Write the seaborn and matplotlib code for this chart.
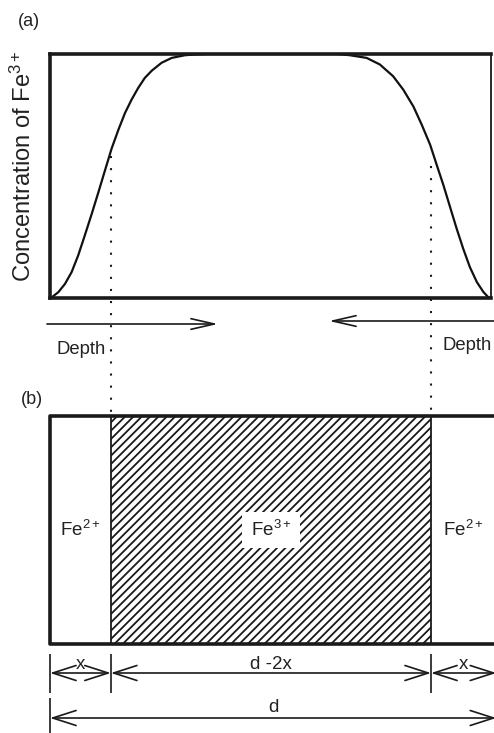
import numpy as np
import pandas as pd
import seaborn as sns
import matplotlib
matplotlib.use("Agg")
import matplotlib.pyplot as plt
from matplotlib.patches import Rectangle

sns.set_theme(style="white")
plt.rcParams["font.family"] = ["Liberation Sans", "DejaVu Sans"]
plt.rcParams["mathtext.fontset"] = "custom"
plt.rcParams["mathtext.rm"] = "Liberation Sans"
plt.rcParams["mathtext.it"] = "Liberation Sans:italic"
plt.rcParams["hatch.linewidth"] = 1.3

# Fe3+ concentration profile across the sample (depth as a fraction of d)
depth = [0.0, 0.004, 0.019, 0.034, 0.049, 0.064, 0.079, 0.095, 0.110, 0.125,
         0.140, 0.155, 0.170, 0.185, 0.200, 0.215, 0.231, 0.253, 0.276,
         0.306, 0.329, 0.360, 0.650,
         0.680, 0.718, 0.748, 0.778, 0.801, 0.824, 0.843, 0.862, 0.877,
         0.892, 0.907, 0.922, 0.937, 0.952, 0.968, 0.983, 0.994, 1.0]
conc = [0.0, 0.003, 0.024, 0.058, 0.106, 0.175, 0.257, 0.347, 0.435, 0.525,
        0.614, 0.689, 0.758, 0.813, 0.861, 0.902, 0.932, 0.964, 0.984,
        0.995, 0.998, 1.0, 1.0,
        0.995, 0.984, 0.957, 0.909, 0.854, 0.785, 0.710, 0.628, 0.545,
        0.463, 0.374, 0.285, 0.202, 0.127, 0.065, 0.024, 0.003, 0.0]

# layer boundaries in panel (b): Fe2+ | Fe3+ | Fe2+
x_shell = 0.138
edges = [0.0, x_shell, 0.864, 1.012]
layer_labels = ["Fe$^{2+}$", "Fe$^{3+}$", "Fe$^{2+}$"]
dim_labels = ["x", "d -2x", "x"]

W, H = 494, 733
fig = plt.figure(figsize=(W / 100, H / 100), dpi=100)

# page-wide axes: horizontal in depth units, vertical in pixel rows
x_of = lambda p: (p - 50) / 441.0
ov = fig.add_axes([0, 0, 1, 1])
ov.set_xlim(x_of(0), x_of(W))
ov.set_ylim(H, 0)
ov.axis("off")

# panel (a): concentration profile
axa = fig.add_axes([50 / W, 1 - 298 / H, 441 / W, 244 / H])
axa.set_facecolor("none")
df = pd.DataFrame({"depth": depth, "conc": conc})
sns.lineplot(data=df, x="depth", y="conc", ax=axa, color="#111111", lw=1.6,
             sort=False, estimator=None)
axa.set_xlim(0, 1)
axa.set_ylim(0, 1)
axa.set_xticks([])
axa.set_yticks([])
axa.set_xlabel("")
axa.set_ylabel("")
for side, spine in axa.spines.items():
    spine.set_visible(True)
    spine.set_color("#1a1a1a")
    spine.set_linewidth(1.3 if side == "right" else 2.6)

txt = dict(color="#222222")
ov.text(x_of(29), 22, "(a)", fontsize=13, ha="center", va="center", **txt)
ov.text(x_of(23), 166, "Concentration of Fe$^{3+}$", fontsize=17.1,
        rotation=90, ha="center", va="center", **txt)

# depth arrows
arrow_kw = dict(arrowstyle="->,head_length=1.4,head_width=0.32", lw=1.2,
                color="#1a1a1a", shrinkA=0, shrinkB=0)
ov.annotate("", xy=(x_of(218), 324), xytext=(x_of(47), 324),
            arrowprops=arrow_kw, annotation_clip=False)
ov.annotate("", xy=(x_of(329), 321), xytext=(x_of(500), 321),
            arrowprops=arrow_kw, annotation_clip=False)
ov.text(x_of(81), 349, "Depth", fontsize=13.3, ha="center", va="center", **txt)
ov.text(x_of(442), 346, "Depth", fontsize=13.3, ha="left", va="center", **txt)

# dotted guides from the profile down to the layer boundaries
ov.vlines([edges[1], edges[2]], [156, 166], 412, colors="#1a1a1a",
          linestyles=(0, (1, 4.8)), lw=1.5)

# panel (b): layer diagram
ov.text(x_of(32), 400, "(b)", fontsize=13, ha="center", va="center", **txt)
top, bot = 416, 644
ov.add_patch(Rectangle((edges[1], top), edges[2] - edges[1], bot - top,
                       facecolor="white", edgecolor="#1a1a1a", hatch="////",
                       lw=1.3, zorder=2))
ov.plot([edges[3], edges[0], edges[0], edges[3]], [top, top, bot, bot],
        color="#1a1a1a", lw=2.6, solid_capstyle="projecting", zorder=3)
centers = [(a + b) / 2 for a, b in zip(edges[:-1], edges[1:])]
for i, (cx, lab) in enumerate(zip(centers, layer_labels)):
    box = dict(facecolor="white", edgecolor="none", pad=6) if i == 1 else None
    ov.text(cx, 530, lab, fontsize=13.5, ha="center", va="center",
            bbox=box, zorder=4, **txt)

# dimension lines
dim_kw = dict(arrowstyle="<->,head_length=1.4,head_width=0.45", lw=1.2,
              color="#1a1a1a", shrinkA=0, shrinkB=0)
ov.vlines(edges, 654, 693, colors="#1a1a1a", lw=1.2)
for a, b, lab in zip(edges[:-1], edges[1:], dim_labels):
    ov.annotate("", xy=(b, 673), xytext=(a, 673), arrowprops=dim_kw,
                annotation_clip=False)
    ov.text((a + b) / 2, 673, lab, fontsize=13.5, ha="center", va="bottom",
            **txt)
ov.vlines([edges[0], edges[-1]], 698, 740, colors="#1a1a1a", lw=1.2)
ov.annotate("", xy=(edges[-1], 718), xytext=(edges[0], 718),
            arrowprops=dim_kw, annotation_clip=False)
ov.text((edges[0] + edges[-1]) / 2, 716, "d", fontsize=13.5, ha="center",
        va="bottom", **txt)

fig.savefig("out.png", dpi=100)
